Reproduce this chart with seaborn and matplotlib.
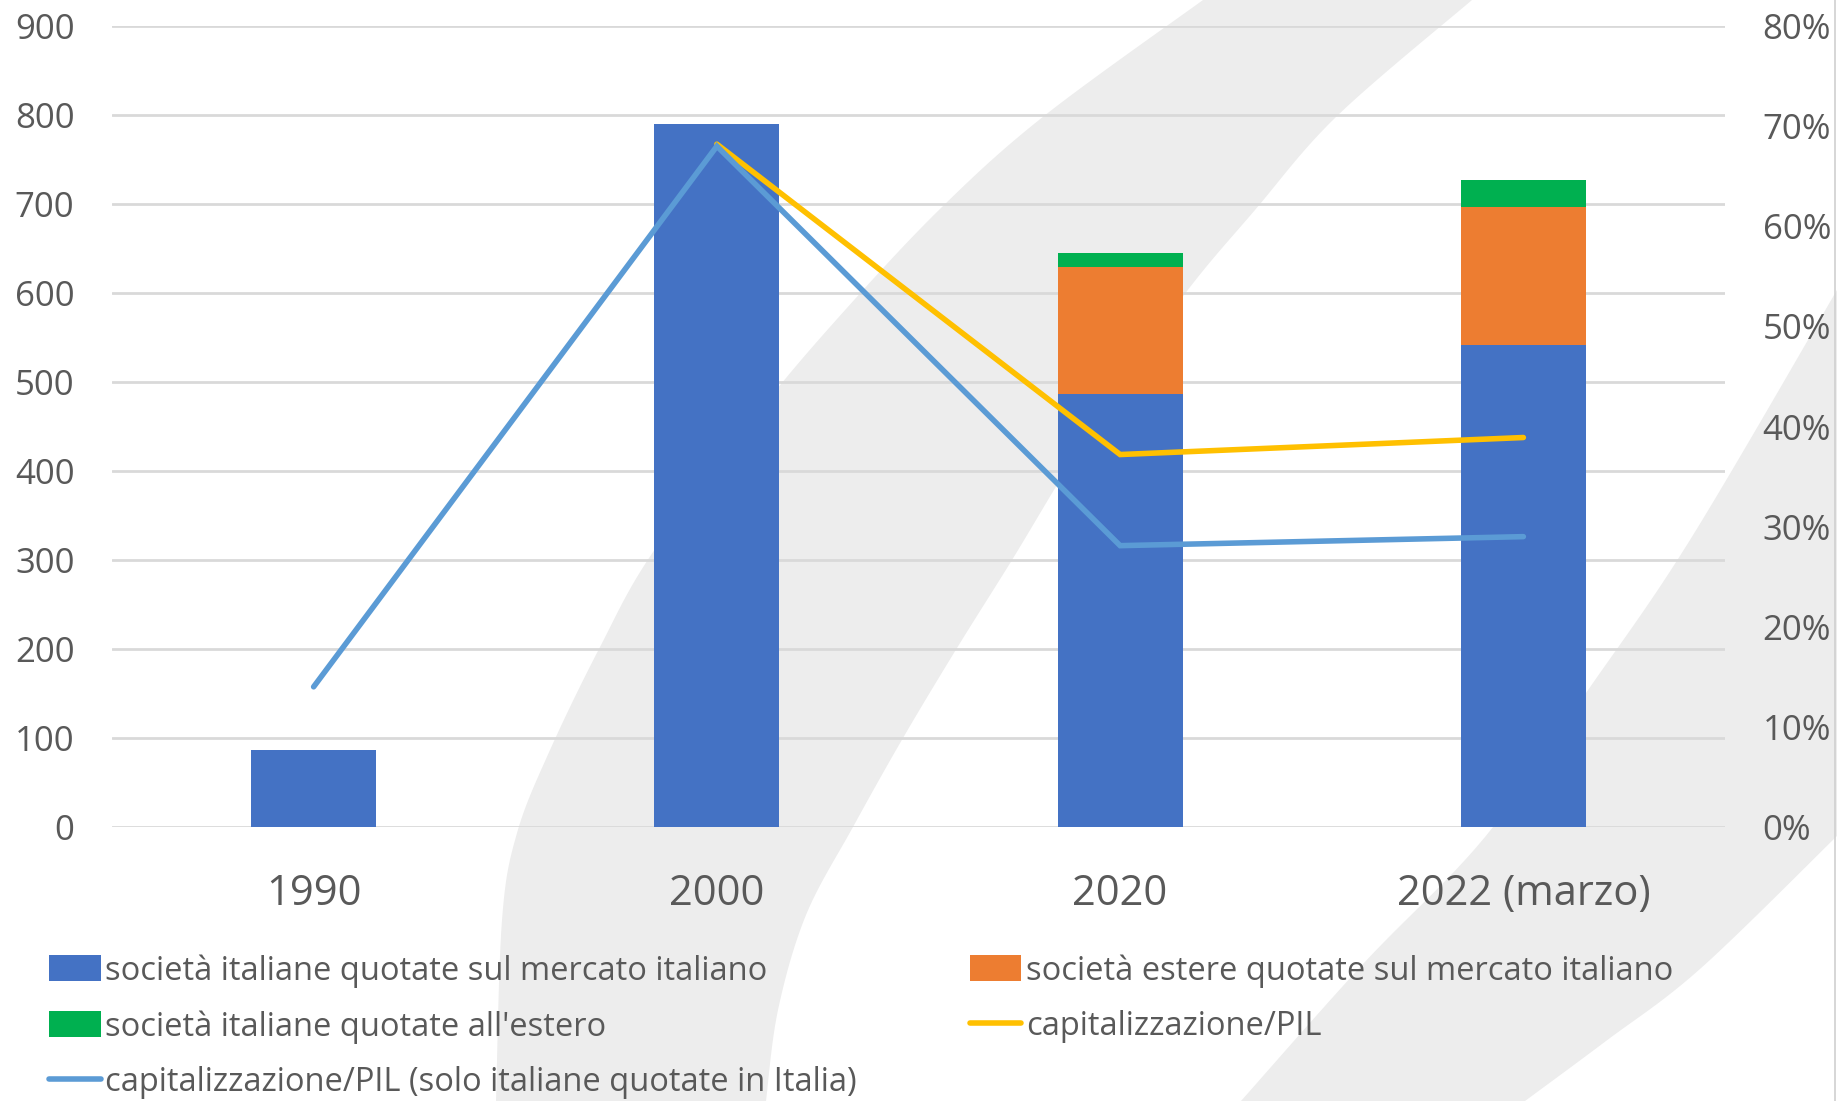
import matplotlib
matplotlib.use("Agg")
import matplotlib.pyplot as plt
import seaborn as sns
import numpy as np
import pandas as pd
from matplotlib.patches import Polygon, Patch
from matplotlib.lines import Line2D
from matplotlib.ticker import PercentFormatter

# ---------------- data ----------------
categories = ["1990", "2000", "2020", "2022 (marzo)"]
italiane_mercato_italiano = [87, 790, 487, 542]
estere_mercato_italiano = [0, 0, 142, 155]
italiane_estero = [0, 0, 16, 30]
cap_pil = [np.nan, 0.682, 0.372, 0.389]
cap_pil_solo_italiane = [0.140, 0.680, 0.281, 0.290]

left_ticks = [0, 100, 200, 300, 400, 500, 600, 700, 800, 900]
right_ticks = [0, 0.1, 0.2, 0.3, 0.4, 0.5, 0.6, 0.7, 0.8]

labels = [
    "società italiane quotate sul mercato italiano",
    "società estere quotate sul mercato italiano",
    "società italiane quotate all'estero",
    "capitalizzazione/PIL",
    "capitalizzazione/PIL (solo italiane quotate in Italia)",
]

BLUE = "#4472C4"
ORANGE = "#ED7D31"
GREEN = "#00B050"
YELLOW = "#FFC000"
LBLUE = "#5B9BD5"
TXT = "#595959"
GRID = "#D9D9D9"
WM = "#EDEDED"

sns.set_theme(style="white")
plt.rcParams["font.family"] = ["Open Sans", "DejaVu Sans"]

W, H = 1837, 1101
fig = plt.figure(figsize=(W / 100, H / 100), dpi=100)
fig.patch.set_facecolor("white")

# ---- decorative watermark (background swooshes) ----
def smooth(pts, n=12):
    p = np.asarray(pts, dtype=float)
    p = np.vstack([p[0], p, p[-1]])
    out = []
    for i in range(1, len(p) - 2):
        p0, p1, p2, p3 = p[i - 1], p[i], p[i + 1], p[i + 2]
        for t in np.linspace(0, 1, n, endpoint=False):
            t2, t3 = t * t, t * t * t
            out.append(0.5 * ((2 * p1) + (-p0 + p2) * t + (2 * p0 - 5 * p1 + 4 * p2 - p3) * t2
                              + (-p0 + 3 * p1 - 3 * p2 + p3) * t3))
    out.append(p[-2])
    return np.array(out)

def fpts(arr):
    return np.column_stack([arr[:, 0] / W, 1 - arr[:, 1] / H])

b1_left = [(1203, 0), (1044, 116), (942, 207), (846, 309), (760, 410), (653, 552),
           (600, 647), (550, 750), (517, 833), (502, 920), (496, 1101)]
b1_right = [(766, 1101), (778, 1010), (806, 915), (853, 827), (903, 738), (957, 648), (1012, 560),
            (1057, 485), (1101, 414), (1184, 295), (1255, 210), (1337, 116), (1472, 0)]
b2_upper = [(1241, 1101), (1363, 964), (1485, 837), (1586, 693), (1690, 540), (1837, 290)]
b2_lower = [(1837, 836), (1700, 969), (1606, 1041), (1525, 1101)]
for e1, e2 in ((b1_left, b1_right), (b2_upper, b2_lower)):
    poly = np.vstack([smooth(e1), smooth(e2)])
    fig.patches.append(Polygon(fpts(poly), closed=True, transform=fig.transFigure,
                               facecolor=WM, edgecolor="none", zorder=-10))
fig.lines.append(Line2D([1835 / W, 1835 / W], [0, 1], transform=fig.transFigure,
                        color="#D0D0D0", linewidth=1.2, zorder=-5))

ax = fig.add_axes([112 / W, 1 - 827 / H, (1725 - 112) / W, (827 - 26) / H])
ax.set_facecolor("none")
ax.set_zorder(1)

df = pd.DataFrame({
    "cat": categories,
    "a": italiane_mercato_italiano,
    "b": estere_mercato_italiano,
    "c": italiane_estero,
})
df["ab"] = df["a"] + df["b"]
df["abc"] = df["ab"] + df["c"]

bw = 0.31
sns.barplot(data=df, x="cat", y="abc", color=GREEN, width=bw, linewidth=0, ax=ax,
            order=categories, saturation=1, zorder=2)
sns.barplot(data=df, x="cat", y="ab", color=ORANGE, width=bw, linewidth=0, ax=ax,
            order=categories, saturation=1, zorder=2)
sns.barplot(data=df, x="cat", y="a", color=BLUE, width=bw, linewidth=0, ax=ax,
            order=categories, saturation=1, zorder=2)

ax.set_xlim(-0.5, 3.5)
ax.set_ylim(0, 900)
ax.set_yticks(left_ticks)
ax.set_yticklabels([str(t) for t in left_ticks])
ax.yaxis.grid(True, color=GRID, linewidth=2)
ax.set_axisbelow(True)
ax.set_xlabel("")
ax.set_ylabel("")
for s in ax.spines.values():
    s.set_visible(False)
ax.tick_params(axis="y", length=0, pad=27, labelsize=25, labelcolor=TXT)
ax.tick_params(axis="x", length=0, pad=33, labelsize=30, labelcolor=TXT)

ax2 = ax.twinx()
ax2.set_facecolor("none")
ldf = pd.DataFrame({"x": np.arange(len(categories)), "y1": cap_pil, "y2": cap_pil_solo_italiane})
sns.lineplot(data=ldf.dropna(subset=["y1"]), x="x", y="y1", color=YELLOW, linewidth=4,
             ax=ax2, solid_capstyle="round", solid_joinstyle="miter")
sns.lineplot(data=ldf, x="x", y="y2", color=LBLUE, linewidth=4,
             ax=ax2, solid_capstyle="round", solid_joinstyle="miter")
ax2.set_ylim(0, 0.8)
ax2.set_yticks(right_ticks)
ax2.yaxis.set_major_formatter(PercentFormatter(1.0, decimals=0))
ax2.set_xlim(-0.5, 3.5)
ax2.set_xlabel("")
ax2.set_ylabel("")
for s in ax2.spines.values():
    s.set_visible(False)
ax2.tick_params(axis="y", length=0, pad=27, labelsize=25, labelcolor=TXT)

handles = [
    Patch(facecolor=BLUE, edgecolor="none"),
    Patch(facecolor=GREEN, edgecolor="none"),
    Line2D([0], [0], color=LBLUE, linewidth=4, solid_capstyle="round"),
    Patch(facecolor=ORANGE, edgecolor="none"),
    Line2D([0], [0], color=YELLOW, linewidth=4, solid_capstyle="round"),
]
hl = [labels[0], labels[2], labels[4], labels[1], labels[3]]
leg = fig.legend(handles, hl, loc="upper left", bbox_to_anchor=(49 / W, 1 - 954 / H),
                 ncol=2, frameon=False, fontsize=23.5, handlelength=1.58, handleheight=0.85,
                 handletextpad=0.15, columnspacing=3.45, labelspacing=0.69,
                 borderaxespad=0, borderpad=0)
for t in leg.get_texts():
    t.set_color(TXT)

fig.savefig("out.png", dpi=100, facecolor="white")
